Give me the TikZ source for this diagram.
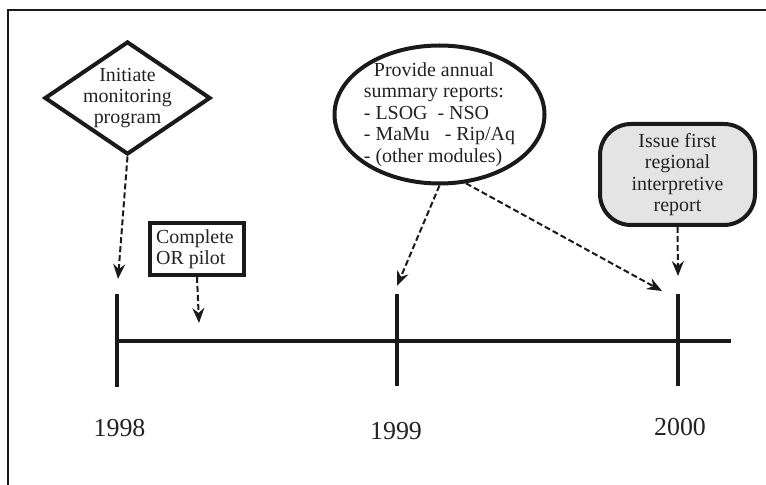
\documentclass[tikz,border=0pt]{standalone}
\usepackage{fontspec}
\setmainfont{Liberation Serif}
\usetikzlibrary{shapes.geometric,arrows.meta}
\definecolor{ink}{HTML}{1A1A1A}
\definecolor{txt}{HTML}{222222}
\definecolor{boxfill}{HTML}{E4E4E4}
\tikzset{
  thickline/.style={draw=ink, line width=4bp},
  conn/.style={draw=ink, line width=2bp, dash pattern=on 6bp off 3bp,
    -{Stealth[length=15bp,width=12bp,inset=5bp]}},
  bodytext/.style={text=txt, font=\fontsize{20}{21.5}\selectfont},
  yeartext/.style={text=txt, font=\fontsize{26}{28}\selectfont},
}
\begin{document}
\begin{tikzpicture}[x=1bp,y=-1bp]
\useasboundingbox (0,0) rectangle (766,485);
% frame
\draw[ink, line width=1.2bp] (8,485) -- (8,10) -- (766,10);

% timeline
\coordinate (L) at (117,341);
\coordinate (R) at (731,341);
\draw[thickline] (L) -- (R);
\draw[thickline] (117,294) -- (117,387);
\draw[thickline] (397,294) -- (397,386);
\draw[thickline] (678,294) -- (678,386);

\node[yeartext] (y98) at (119.5,428) {1998};
\node[yeartext] (y99) at (396,431) {1999};
\node[yeartext] (y00) at (680,427.5) {2000};

% diamond
\node[diamond, thickline, inner sep=0pt, minimum width=166bp, minimum height=113bp,
      label={[bodytext, align=center]center:Initiate\\monitoring\\program}] (dia) at (127.5,98) {};
% complete OR pilot
\node[rectangle, thickline, inner sep=0pt, minimum width=94bp, minimum height=52bp] (box) at (197,249) {};
\node[bodytext, align=left, anchor=west, inner sep=0pt] (boxtxt) at (156,249) {Complete\\OR pilot};
% ellipse
\node[ellipse, thickline, inner sep=0pt, minimum width=210bp, minimum height=138bp,
      label={[bodytext, align=left]center:\hspace*{10bp}Provide annual\\summary reports:\\- LSOG\ \ - NSO\\- MaMu\ \ \ - Rip/Aq\\- (other modules)}] (ell) at (439.5,114.5) {};
% rounded box
\node[rectangle, rounded corners=31bp, thickline, fill=boxfill, inner sep=0pt,
      minimum width=155bp, minimum height=101bp, bodytext, align=center] (rep) at (677.5,174.5)
      {Issue first\\regional\\interpretive\\report};

% arrow end points
\coordinate (t1) at (118,279);
\coordinate (t2) at (199,323);
\coordinate (t3) at (397,286);
\coordinate (t4) at (662,291);
\coordinate (t5) at (678,276);

\draw[conn] (dia.south) -- (t1);
\draw[conn] (box.south) -- (t2);
\draw[conn] (ell.south) -- (t3);
\draw[conn] (ell.-69) -- (t4);
\draw[conn] (rep.south) -- (t5);
\end{tikzpicture}
\end{document}
